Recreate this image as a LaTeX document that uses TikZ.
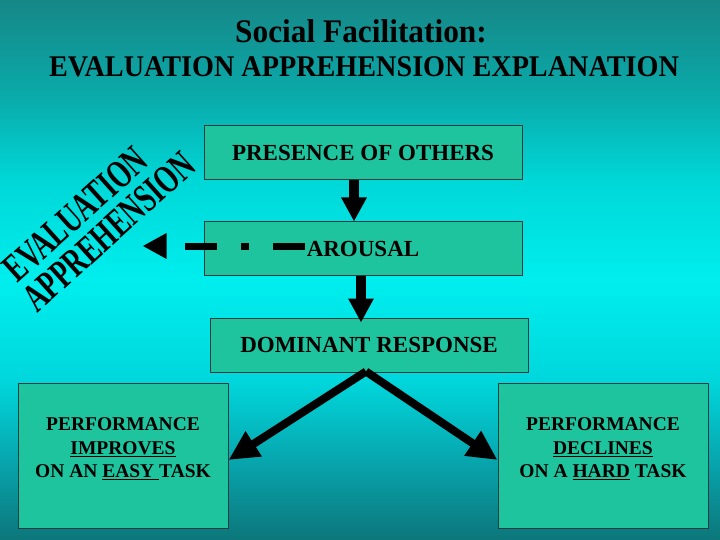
\documentclass[tikz,border=0pt]{standalone}
\usepackage{fontspec}
\setmainfont{Liberation Serif}
\usetikzlibrary{arrows.meta}
\definecolor{boxfill}{RGB}{30,196,158}
\definecolor{boxline}{RGB}{30,60,60}
\definecolor{bgA}{RGB}{12,118,122}
\definecolor{bgB}{RGB}{8,160,168}
\definecolor{bgC}{RGB}{0,215,220}
\definecolor{bgD}{RGB}{0,238,238}
\definecolor{bgE}{RGB}{0,215,215}
\definecolor{bgF}{RGB}{10,172,172}
\definecolor{bgG}{RGB}{22,135,135}
\pgfdeclareverticalshading{bgshade}{100bp}{color(0bp)=(bgA); color(25bp)=(bgA); color(31.5bp)=(bgB); color(39.8bp)=(bgC); color(49.1bp)=(bgD); color(58.3bp)=(bgE); color(65.7bp)=(bgF); color(75bp)=(bgG); color(100bp)=(bgG)}
\newcommand{\narrowtext}[1]{\scalebox{0.68}[1]{#1}}
\begin{document}
\begin{tikzpicture}[x=1pt,y=-1pt,
  box/.style={draw=boxline,line width=1pt,fill=boxfill,inner sep=0pt,
    font=\fontsize{23}{27}\selectfont\bfseries},
  smalltext/.style={align=center,inner sep=0pt,
    font=\fontsize{19.5}{23.5}\selectfont\bfseries},
  slanttext/.style={rotate=42,anchor=base,inner sep=0pt,
    font=\fontsize{40}{44}\selectfont\bfseries},
  vArrow/.style={line width=10pt,-{Triangle[length=24pt,width=24pt]}},
  dArrow/.style={line width=8pt,-{Triangle[length=30pt,width=28pt]}},
  dashArrow/.style={line width=7pt,dash pattern=on 32pt off 24pt on 8pt off 24pt on 32pt off 40pt,
    -{Triangle[length=24pt,width=24pt]}}]
\useasboundingbox (0,0) rectangle (720,540);
\shade[shading=bgshade] (0,0) rectangle (720,540);

\node[anchor=base,xscale=0.95,inner sep=0pt,font=\fontsize{33}{36}\selectfont\bfseries] (t1) at (361,43) {Social Facilitation:};
\node[anchor=base,xscale=0.94,inner sep=0pt,font=\fontsize{30}{34}\selectfont\bfseries] (t2) at (364,77) {EVALUATION APPREHENSION EXPLANATION};

\node[slanttext] (ev) at (84,224) {\narrowtext{EVALUATION}};
\node[slanttext] (ap) at (117.5,241.5) {\narrowtext{APPREHENSION}};

\node[box,minimum width=318pt,minimum height=54pt] (pres) at (363,153) {PRESENCE OF OTHERS};
\node[box,minimum width=318pt,minimum height=53pt] (arou) at (363,248.5) {AROUSAL};
\node[box,minimum width=318pt,minimum height=54pt] (dom) at (369,345) {DOMINANT RESPONSE};
\node[box,minimum width=210pt,minimum height=145pt] (lb) at (123,455.5) {};
\node[box,minimum width=210pt,minimum height=145pt] (rb) at (603,455.5) {};
\node[smalltext] (lt) at (123,449) {PERFORMANCE\\\underline{IMPROVES}\\ON AN \underline{EASY\ }TASK};
\node[smalltext] (rt) at (603,449) {PERFORMANCE\\\underline{DECLINES}\\ON A \underline{HARD} TASK};

\draw[vArrow] ([xshift=-9pt]pres.south) -- ([xshift=-9pt]arou.north);
\draw[vArrow,shorten >=-5pt] ([xshift=-2pt]arou.south) -- ([xshift=-8pt]dom.north);
\coordinate (apex) at ([xshift=-3pt,yshift=1pt]dom.south);
\draw[dArrow] (apex) -- ([yshift=-4.5pt]lb.east);
\draw[dArrow] (apex) -- ([yshift=-4.5pt]rb.west);
\draw[dashArrow] ([xshift=101pt,yshift=2.5pt]arou.west) -- ([xshift=-61pt,yshift=2.5pt]arou.west);
\end{tikzpicture}
\end{document}
